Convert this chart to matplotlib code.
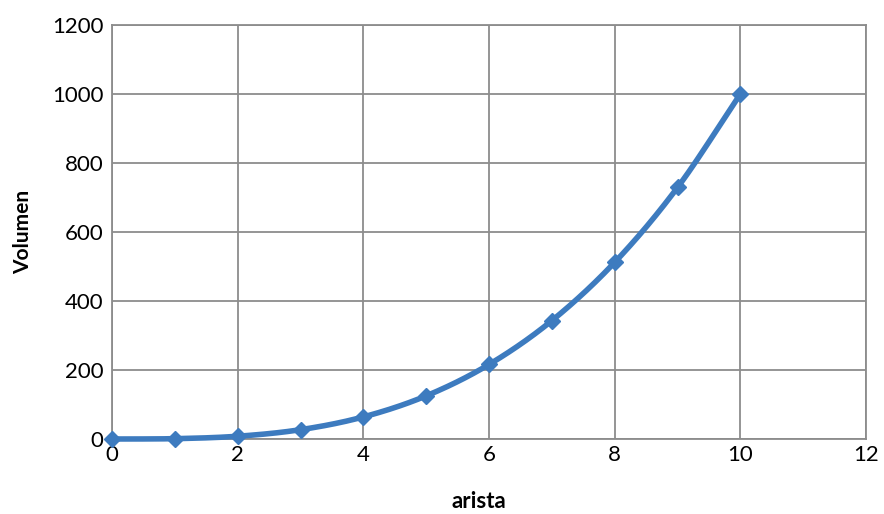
import numpy as np
import matplotlib
matplotlib.use("Agg")
import matplotlib.pyplot as plt

arista = [0, 1, 2, 3, 4, 5, 6, 7, 8, 9, 10]
volumen = [0, 1, 8, 27, 64, 125, 216, 343, 512, 729, 1000]
xticks = [0, 2, 4, 6, 8, 10, 12]
yticks = [0, 200, 400, 600, 800, 1000, 1200]

def catmull_rom(x, y, n=30):
    x = np.asarray(x, float); y = np.asarray(y, float)
    px = np.concatenate([[2 * x[0] - x[1]], x, [2 * x[-1] - x[-2]]])
    py = np.concatenate([[2 * y[0] - y[1]], y, [2 * y[-1] - y[-2]]])
    xs, ys = [], []
    t = np.linspace(0, 1, n)
    for i in range(1, len(px) - 2):
        for p, out in ((px, xs), (py, ys)):
            p0, p1, p2, p3 = p[i - 1], p[i], p[i + 1], p[i + 2]
            out.append(0.5 * ((2 * p1) + (-p0 + p2) * t + (2 * p0 - 5 * p1 + 4 * p2 - p3) * t**2
                              + (-p0 + 3 * p1 - 3 * p2 + p3) * t**3))
    return np.concatenate(xs), np.concatenate(ys)

plt.rcParams['font.family'] = ['Lato', 'DejaVu Sans']

fig = plt.figure(figsize=(8.84, 5.14), dpi=100)
ax = fig.add_axes([112 / 884, 75 / 514, 754 / 884, 414 / 514])

color = '#3d7bbf'
sx, sy = catmull_rom(arista, volumen)
ax.plot(sx, sy, color=color, lw=4, solid_capstyle='round', zorder=3, clip_on=False)
ax.plot(arista, volumen, linestyle='none', marker='D', ms=8, color=color, zorder=4, clip_on=False)

ax.set_xlim(0, 12)
ax.set_ylim(0, 1200)
ax.set_xticks(xticks)
ax.set_yticks(yticks)
ax.grid(True, color='#8c8c8c', lw=1.3)
ax.set_axisbelow(True)
for s in ax.spines.values():
    s.set_color('#8c8c8c')
    s.set_linewidth(1.3)
ax.tick_params(length=0, labelsize=16, pad=4, colors='black')
ax.tick_params(axis='y', pad=6)
ax.set_xlabel('arista', fontsize=16, fontweight='bold', labelpad=20)
ax.xaxis.set_label_coords((479 - 112) / 754, -0.1, transform=ax.transAxes)
ax.xaxis.label.set_verticalalignment('center')
ax.xaxis.label.set_y((439 - 501) / 414)
ax.set_ylabel('Volumen', fontsize=15, fontweight='bold', labelpad=14)

fig.savefig('out.png', dpi=100)
